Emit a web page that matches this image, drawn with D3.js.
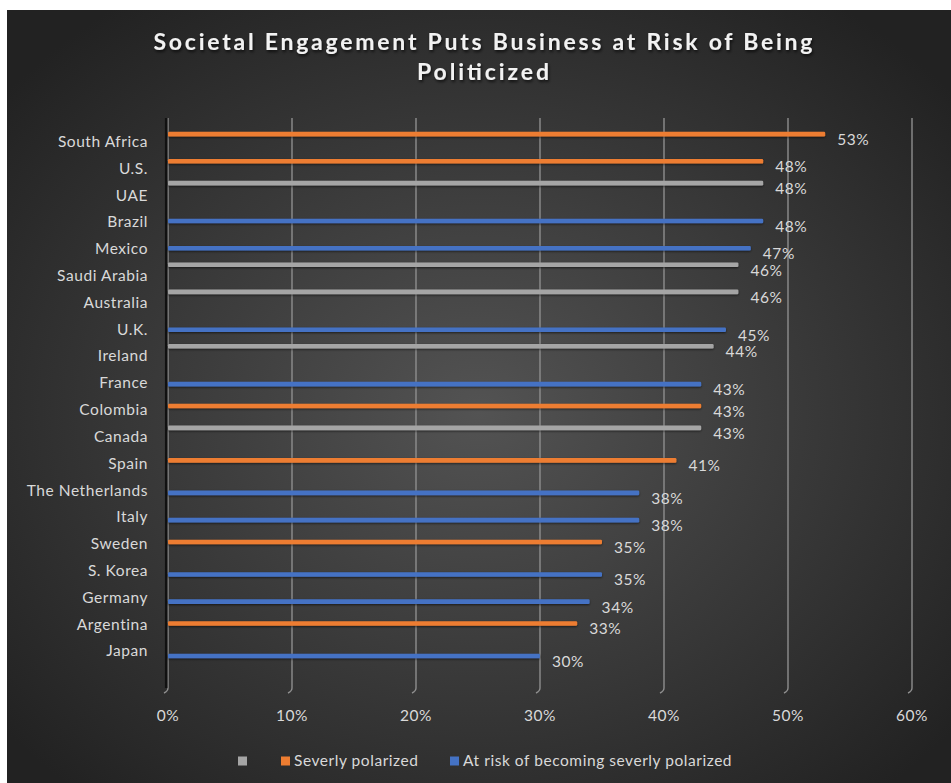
<!DOCTYPE html>
<meta charset="utf-8">
<style>
body { margin: 0; background: #fff; }
text { font-family: Lato, "Open Sans", sans-serif; }
.lbl { font-size: 15.5px; letter-spacing: 0.55px; fill: #d9d9d9; }
</style>
<svg width="951" height="783"></svg>
<script src="https://cdn.jsdelivr.net/npm/d3@7"></script>
<script>
// data
var countries = ["South Africa","U.S.","UAE","Brazil","Mexico","Saudi Arabia","Australia","U.K.","Ireland","France ",
                 "Colombia","Canada","Spain","The Netherlands","Italy","Sweden","S. Korea","Germany","Argentina","Japan"];
var values = [53,48,48,48,47,46,46,45,44,43,43,43,41,38,38,35,35,34,33,30];
var groups = [1,1,0,2,2,0,0,2,0,2,1,0,1,2,2,1,2,2,1,2];
var seriesNames = ["", "Severly polarized", "At risk of becoming severly polarized"];
var seriesColors = ["#a5a5a5", "#ed7d31", "#4472c4"];
var xTicks = [0,10,20,30,40,50,60];

var svg = d3.select("svg");
var defs = svg.append("defs");

// background radial gradient
var grad = defs.append("radialGradient")
    .attr("id", "bg")
    .attr("cx", "50%").attr("cy", "52%").attr("r", "65%");
grad.append("stop").attr("offset", "0%").attr("stop-color", "#535353");
grad.append("stop").attr("offset", "100%").attr("stop-color", "#222");

var shadow = defs.append("filter").attr("id", "shadow")
    .attr("x", "-5%").attr("y", "-20%").attr("width", "110%").attr("height", "150%");
shadow.append("feDropShadow").attr("dx", 1).attr("dy", 2).attr("stdDeviation", 1.5)
    .attr("flood-color", "#000").attr("flood-opacity", 0.7);

var barShadow = defs.append("filter").attr("id", "barshadow")
    .attr("x", "-2%").attr("y", "-60%").attr("width", "104%").attr("height", "260%");
barShadow.append("feDropShadow").attr("dx", 0).attr("dy", 1).attr("stdDeviation", 0.8)
    .attr("flood-color", "#000").attr("flood-opacity", 0.6);

svg.append("rect")
    .attr("x", 7).attr("y", 10)
    .attr("width", 944).attr("height", 773)
    .attr("fill", "url(#bg)");

// scales
var x = d3.scaleLinear().domain([0, 60]).range([168, 912]);
var y = d3.scaleBand().domain(countries).range([120.5, 664.3])
    .paddingInner(0.41).paddingOuter(0.205);
var s = d3.scaleBand().domain([0, 1, 2]).range([0, y.bandwidth()]);
var yl = d3.scalePoint().domain(countries).range([141.5, 651]);

// gridlines
var grid = svg.append("g");
xTicks.forEach(function(t) {
  var gx = x(t);
  grid.append("path")
      .attr("d", "M" + gx + ",118V688q0,3 -4,5")
      .attr("fill", "none")
      .attr("stroke", "#8e8e8e")
      .attr("stroke-width", 1.4);
});
// dark shadow along the value axis
svg.append("line")
    .attr("x1", x(0) - 1.8).attr("x2", x(0) - 1.8)
    .attr("y1", 118).attr("y2", 688)
    .attr("stroke", "#111").attr("stroke-width", 2.5);

// tick labels
svg.append("g").selectAll("text")
  .data(xTicks)
  .enter().append("text")
    .attr("class", "lbl")
    .attr("x", function(d) { return x(d); })
    .attr("y", 716)
    .attr("dy", "0.35em")
    .attr("text-anchor", "middle")
    .text(function(d) { return d + "%"; });

// category labels
svg.append("g").selectAll("text")
  .data(countries)
  .enter().append("text")
    .attr("class", "lbl")
    .attr("x", 148)
    .attr("y", function(d) { return yl(d); })
    .attr("dy", "0.35em")
    .attr("text-anchor", "end")
    .text(function(d) { return d; });

// bars
var barH = 4.6;
function barY(d, i) { return y(countries[i]) + s(groups[i]) + s.bandwidth() / 2; }

svg.append("g").selectAll("rect")
  .data(values)
  .enter().append("rect")
    .attr("x", x(0))
    .attr("y", function(d, i) { return barY(d, i) - barH / 2; })
    .attr("width", function(d) { return x(d) - x(0); })
    .attr("height", barH)
    .attr("rx", 1.2)
    .attr("fill", function(d, i) { return seriesColors[groups[i]]; })
    .attr("filter", "url(#barshadow)");

// data labels
svg.append("g").selectAll("text")
  .data(values)
  .enter().append("text")
    .attr("class", "lbl")
    .attr("x", function(d) { return x(d) + 12; })
    .attr("y", function(d, i) { return barY(d, i) + 5.5; })
    .attr("dy", "0.35em")
    .text(function(d) { return d + "%"; });

// title
var title = svg.append("g").attr("filter", "url(#shadow)");
title.append("text")
    .attr("x", 483).attr("y", 42)
    .attr("dy", "0.35em")
    .attr("text-anchor", "middle")
    .attr("fill", "#f2f2f2")
    .attr("textLength", 659)
    .attr("lengthAdjust", "spacing")
    .style("font-size", "23px")
    .style("font-weight", "bold")
    .text("Societal Engagement Puts Business at Risk of Being");
title.append("text")
    .attr("x", 483).attr("y", 72)
    .attr("dy", "0.35em")
    .attr("text-anchor", "middle")
    .attr("fill", "#f2f2f2")
    .attr("textLength", 132)
    .attr("lengthAdjust", "spacing")
    .style("font-size", "23px")
    .style("font-weight", "bold")
    .text("Politicized");

// legend
var legendX = [238, 281, 450];
var legend = svg.append("g").selectAll("g")
  .data(seriesNames)
  .enter().append("g")
    .attr("transform", function(d, i) { return "translate(" + legendX[i] + ",761)"; });

legend.append("rect")
    .attr("y", -4.5)
    .attr("width", 9).attr("height", 9)
    .attr("fill", function(d, i) { return seriesColors[i]; });

legend.append("text")
    .attr("class", "lbl")
    .attr("x", 13)
    .attr("dy", "0.32em")
    .text(function(d) { return d; });
</script>
